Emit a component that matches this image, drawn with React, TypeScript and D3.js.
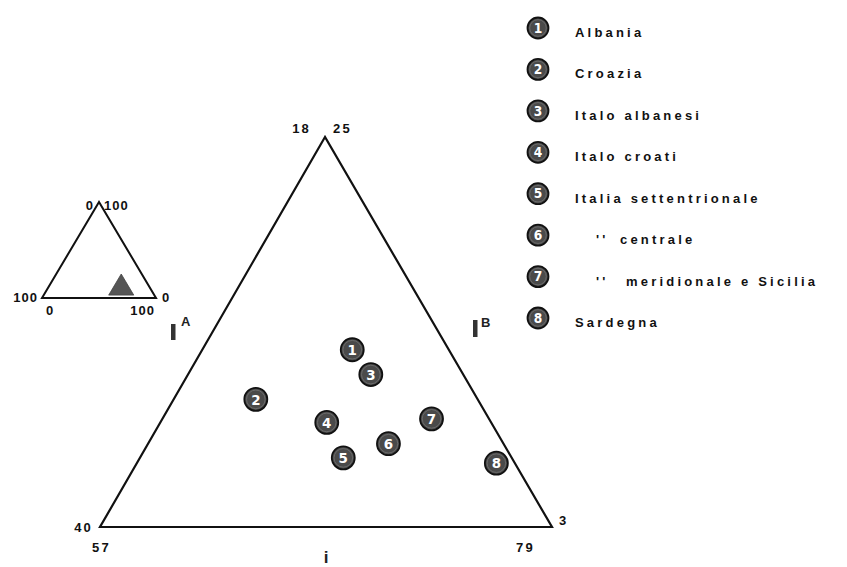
import React from "react";
import * as d3 from "d3";

// ABO gene frequencies (%)
const GROUPS = ["1", "2", "3", "4", "5", "6", "7", "8"];
const LEGEND_DITTO = ["", "", "", "", "", "''", "''", ""];
const LEGEND_LABELS = [
  "Albania",
  "Croazia",
  "Italo albanesi",
  "Italo croati",
  "Italia settentrionale",
  "centrale",
  "meridionale e Sicilia",
  "Sardegna",
];
const FREQ_IA = [22.7, 28.8, 22.5, 26.0, 26.2, 23.6, 20.8, 18.9];
const FREQ_IB = [13.0, 10.2, 11.6, 8.9, 6.9, 7.7, 9.1, 6.6];
const FREQ_I = [64.3, 61.0, 65.9, 65.1, 66.9, 68.7, 70.1, 74.5];

// extent of the enlarged region
const RANGE_IA = [18, 40];
const RANGE_IB = [3, 25];
const RANGE_I = [57, 79];

const FONT = "'Liberation Sans', Arial, sans-serif";
const NUM_FONT = "'DejaVu Sans Condensed', 'DejaVu Sans', sans-serif";

type Pt = [number, number];
type Tri = { apex: Pt; left: Pt; right: Pt };

// barycentric projection: I^B -> apex, I^A -> left corner, i -> right corner
function ternary(tri: Tri, ra: number[], rb: number[], ri: number[]) {
  const wa = d3.scaleLinear().domain(ra).range([0, 1]);
  const wb = d3.scaleLinear().domain(rb).range([0, 1]);
  const wi = d3.scaleLinear().domain(ri).range([0, 1]);
  return (a: number, b: number, i: number): Pt => {
    const pa = wa(a), pb = wb(b), pi = wi(i);
    const s = pa + pb + pi;
    return [
      (pb * tri.apex[0] + pa * tri.left[0] + pi * tri.right[0]) / s,
      (pb * tri.apex[1] + pa * tri.left[1] + pi * tri.right[1]) / s,
    ];
  };
}

const MAIN: Tri = { apex: [325, 137], left: [100, 527], right: [552, 527] };
const INSET: Tri = { apex: [99, 202], left: [42, 298], right: [156, 298] };

const mainProj = ternary(MAIN, RANGE_IA, RANGE_IB, RANGE_I);
const insetProj = ternary(INSET, [0, 100], [0, 100], [0, 100]);

const line = d3.line<Pt>();

function Marker({ x, y, r, label }: { x: number; y: number; r: number; label: string }) {
  return (
    <g transform={`translate(${x},${y})`}>
      <circle r={r} fill="#4a4a4a" stroke="#111" strokeWidth={1.8} />
      <circle r={r - 2.2} fill="none" stroke="#6a6a6a" strokeWidth={1} />
      <text
        y={r * 0.45}
        textAnchor="middle"
        fill="#fff"
        fontFamily={NUM_FONT}
        fontWeight="bold"
        fontSize={r * 1.3}
      >
        {label}
      </text>
    </g>
  );
}

function Label({ x, y, anchor = "start", children, size = 13, spacing = 2.2 }: any) {
  return (
    <text
      x={x}
      y={y}
      textAnchor={anchor}
      fontFamily={FONT}
      fontWeight="bold"
      fontSize={size}
      letterSpacing={spacing}
      fill="#111"
    >
      {children}
    </text>
  );
}

export default function App() {
  const mainPath = line([MAIN.apex, MAIN.left, MAIN.right]) + "Z";
  const insetPath = line([INSET.apex, INSET.left, INSET.right]) + "Z";
  const region = [
    insetProj(RANGE_IA[0], RANGE_IB[1], RANGE_I[0]),
    insetProj(RANGE_IA[1], RANGE_IB[0], RANGE_I[0]),
    insetProj(RANGE_IA[0], RANGE_IB[0], RANGE_I[1]),
  ] as Pt[];
  const points = GROUPS.map((g, k) => ({ g, p: mainProj(FREQ_IA[k], FREQ_IB[k], FREQ_I[k]) }));
  const rowY = d3.scaleLinear().domain([0, 7]).range([32, 322]);

  return (
    <svg width={847} height={567} style={{ position: "absolute", left: 0, top: 0, background: "#fff" }}>
      <rect width={847} height={567} fill="#fff" />

      {/* inset: whole triangle with the enlarged region */}
      <path d={insetPath} fill="none" stroke="#111" strokeWidth={2} />
      <path d={line(region) + "Z"} fill="#555" stroke="#444" strokeWidth={0.8} />
      <Label x={INSET.apex[0] - 5} y={INSET.apex[1] + 8} anchor="end" spacing={1}>0</Label>
      <Label x={INSET.apex[0] + 5} y={INSET.apex[1] + 8} spacing={1}>100</Label>
      <Label x={INSET.left[0] - 4} y={INSET.left[1] + 4} anchor="end" spacing={1}>100</Label>
      <Label x={INSET.right[0] + 6} y={INSET.right[1] + 4} spacing={1}>0</Label>
      <Label x={INSET.left[0] + 4} y={INSET.left[1] + 17} spacing={1}>0</Label>
      <Label x={INSET.right[0] - 1} y={INSET.right[1] + 17} anchor="end" spacing={1}>100</Label>

      {/* main triangle */}
      <path d={mainPath} fill="none" stroke="#111" strokeWidth={2.2} />
      <Label x={MAIN.apex[0] - 14} y={MAIN.apex[1] - 4} anchor="end">{RANGE_IA[0]}</Label>
      <Label x={MAIN.apex[0] + 8} y={MAIN.apex[1] - 4}>{RANGE_IB[1]}</Label>
      <Label x={MAIN.left[0] - 7} y={MAIN.left[1] + 5} anchor="end">{RANGE_IA[1]}</Label>
      <Label x={MAIN.right[0] + 7} y={MAIN.right[1] - 2}>{RANGE_IB[0]}</Label>
      <Label x={MAIN.left[0] - 8} y={MAIN.left[1] + 25}>{RANGE_I[0]}</Label>
      <Label x={MAIN.right[0] - 36} y={MAIN.right[1] + 25}>{RANGE_I[1]}</Label>

      {/* axis names */}
      <g fontFamily={FONT} fontWeight="bold" fill="#222">
        <rect x={171} y={324} width={4.5} height={16} fill="#333" />
        <text x={181} y={326} fontSize={13}>A</text>
        <rect x={473} y={320} width={4.5} height={17} fill="#333" />
        <text x={481} y={327} fontSize={13}>B</text>
        <text x={326} y={563} fontSize={17} textAnchor="middle">i</text>
      </g>

      {points.map(({ g, p }) => (
        <Marker key={g} x={p[0]} y={p[1]} r={11.5} label={g} />
      ))}

      {/* legend */}
      {LEGEND_LABELS.map((name, k) => (
        <g key={name}>
          <Marker x={538} y={rowY(k) - 4} r={10.5} label={GROUPS[k]} />
          {LEGEND_DITTO[k] ? (
            <>
              <Label x={596} y={rowY(k) + 5} spacing={3.2}>{LEGEND_DITTO[k]}</Label>
              <Label x={k === 5 ? 620 : 626} y={rowY(k) + 5} spacing={3.2}>{name}</Label>
            </>
          ) : (
            <Label x={575} y={rowY(k) + 5} spacing={3.2}>{name}</Label>
          )}
        </g>
      ))}
    </svg>
  );
}
